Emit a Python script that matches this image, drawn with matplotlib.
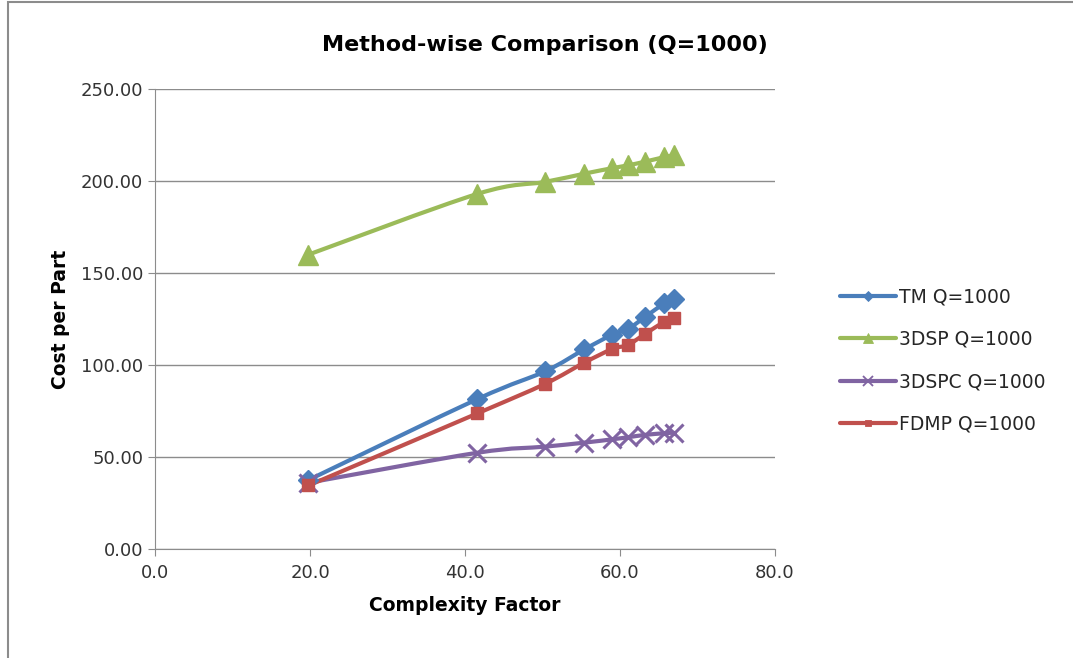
import numpy as np
import matplotlib.pyplot as plt
from matplotlib.path import Path
from matplotlib.patches import PathPatch, Rectangle
from matplotlib.lines import Line2D

complexity = [19.8, 41.6, 50.3, 55.4, 59.0, 61.0, 63.2, 65.7, 66.9]
tm = [37.5, 81.5, 96.5, 108.5, 116.5, 119.5, 126.0, 133.5, 136.0]
dsp = [160.0, 193.0, 199.5, 204.0, 207.0, 208.5, 210.5, 213.0, 214.0]
dspc = [36.0, 52.3, 55.6, 57.8, 59.6, 60.7, 62.0, 62.9, 63.2]
fdmp = [34.5, 73.7, 89.7, 101.3, 108.7, 110.9, 116.8, 123.5, 125.7]

series = [
    ("TM Q=1000", tm, "#4A7EBB", "D", 10, 1),
    ("3DSP Q=1000", dsp, "#9BBB59", "^", 15, 1),
    ("3DSPC Q=1000", dspc, "#8064A2", "x", 13, 2.2),
    ("FDMP Q=1000", fdmp, "#C0504D", "s", 9, 1),
]


def smooth_path(x, y):
    # Catmull-Rom style bezier through the points, like Excel's smoothed lines
    p = np.column_stack([x, y])
    verts = [p[0]]
    codes = [Path.MOVETO]
    n = len(p)
    for i in range(n - 1):
        p0 = p[i - 1] if i > 0 else p[i]
        p3 = p[i + 2] if i + 2 < n else p[i + 1]
        c1 = p[i] + (p[i + 1] - p0) / 6
        c2 = p[i + 1] - (p3 - p[i]) / 6
        verts += [c1, c2, p[i + 1]]
        codes += [Path.CURVE4] * 3
    return Path(verts, codes)


plt.rcParams['font.family'] = ['DejaVu Sans']
fig = plt.figure(figsize=(10.73, 6.58), dpi=100)
ax = fig.add_axes([0.1445, 0.1657, 0.5778, 0.699])

handles = []
for label, vals, color, marker, ms, mew in series:
    ax.add_patch(PathPatch(smooth_path(complexity, vals), facecolor="none",
                           edgecolor=color, lw=3, capstyle="round", zorder=3))
    ax.plot(complexity, vals, linestyle="none", marker=marker, ms=ms,
            color=color, mec=color, mew=mew, zorder=4)
    handles.append(Line2D([], [], color=color, lw=3, marker=marker,
                          ms=ms * 0.5, mew=mew * 0.6, solid_capstyle="round",
                          label=label))

ax.set_xlim(0, 80)
ax.set_ylim(0, 250)
ax.set_xticks(np.arange(0, 81, 20))
ax.set_yticks(np.arange(0, 251, 50))
ax.xaxis.set_major_formatter(lambda v, pos: f"{v:.1f}")
ax.yaxis.set_major_formatter(lambda v, pos: f"{v:.2f}")
ax.grid(axis="y", color="#8c8c8c", lw=1)
ax.set_axisbelow(True)
for side in ["top", "right"]:
    ax.spines[side].set_visible(False)
for side in ["left", "bottom"]:
    ax.spines[side].set_color("#8c8c8c")
ax.tick_params(direction="out", length=5, color="#8c8c8c", labelsize=13,
               labelcolor="#333333")
ax.tick_params(axis="x", pad=6)

ax.set_xlabel("Complexity Factor", fontsize=13.5, fontweight="bold", labelpad=10)
ax.set_ylabel("Cost per Part", fontsize=13.5, fontweight="bold", labelpad=8)
fig.text(0.508, 0.932, "Method-wise Comparison (Q=1000)", ha="center",
         va="center", fontsize=16, fontweight="bold")

leg = fig.legend(handles=handles, loc="center left",
                 bbox_to_anchor=(0.767, 0.452), frameon=False, fontsize=13.5,
                 handlelength=3.0, labelspacing=1.25, handletextpad=0.15)
for t in leg.get_texts():
    t.set_color("#262626")

# chart border
fig.patches.append(Rectangle((8 / 1073, -0.1), 1.2, 1.1 - 2 / 658,
                             transform=fig.transFigure, fill=False,
                             edgecolor="#8c8c8c", lw=1.5))

fig.savefig("out.png", dpi=100)
